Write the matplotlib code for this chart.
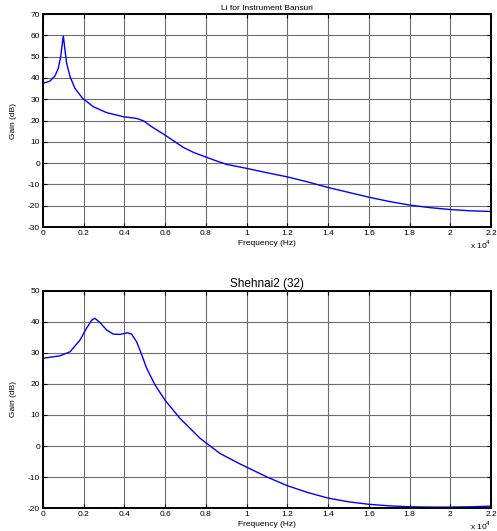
#!/usr/bin/env python

import numpy as np
import matplotlib.pyplot as plt

plt.rcParams['font.family'] = ['Liberation Sans', 'DejaVu Sans']
plt.rcParams['axes.unicode_minus'] = False

# ----------------------------------------------------------
# Datos (frecuencia en unidades de 1e4 Hz)
# ----------------------------------------------------------
freq_bansuri = [0.0, 0.034, 0.059, 0.075, 0.087, 0.095, 0.1, 0.106, 0.116,
                0.133, 0.157, 0.195, 0.247, 0.313, 0.394, 0.46, 0.495,
                0.526, 0.56, 0.599, 0.645, 0.689, 0.74, 0.796, 0.85, 0.902,
                0.997, 1.099, 1.197, 1.295, 1.398, 1.508, 1.6, 1.7, 1.8,
                1.9, 2.0, 2.1, 2.2]
gain_bansuri = [37.5, 38.5, 41.0, 44.5, 50.0, 56.2, 59.7, 54.7, 46.9,
                40.6, 35.1, 30.4, 26.5, 23.7, 21.8, 21.0, 19.8,
                17.6, 15.5, 13.2, 10.2, 7.4, 5.0, 3.0, 1.1, -0.6,
                -2.4, -4.5, -6.4, -8.7, -11.4, -13.9, -16.0, -18.0, -19.7,
                -20.9, -21.8, -22.4, -22.7]

freq_shehnai = [0.0, 0.0, 0.084, 0.133, 0.182, 0.214, 0.239, 0.255, 0.28,
                0.313, 0.345, 0.378, 0.414, 0.435, 0.46, 0.485, 0.509, 0.55,
                0.599, 0.673, 0.771, 0.869, 0.968, 1.1, 1.2, 1.3,
                1.4, 1.5, 1.6, 1.7, 1.8, 1.9, 2.0, 2.1, 2.2]
gain_shehnai = [0.0, 28.3, 29.1, 30.4, 34.2, 38.0, 40.6, 41.2, 39.8,
                37.4, 36.1, 36.0, 36.5, 36.1, 33.6, 29.4, 25.1, 19.7,
                14.8, 8.9, 2.5, -2.4, -5.8, -10.0, -12.8, -15.0,
                -16.8, -18.0, -18.8, -19.3, -19.6, -19.7, -19.7, -19.6, -19.4]

x_ticks = [0, 0.2, 0.4, 0.6, 0.8, 1, 1.2, 1.4, 1.6, 1.8, 2, 2.2]


def style_axes(ax, ylim, yticks, title, title_size):
    ax.set_xlim(0, 2.2)
    ax.set_ylim(*ylim)
    ax.set_xticks(x_ticks)
    ax.set_xticklabels([f"{t:g}" for t in x_ticks])
    ax.set_yticks(yticks)
    ax.tick_params(direction='in', top=True, right=True, labelsize=6,
                   length=3, width=0.8, pad=2)
    ax.grid(True, color='#6e6e6e', linewidth=0.8)
    for sp in ax.spines.values():
        sp.set_linewidth(1.4)
    ax.set_xlabel('Frequency (Hz)', fontsize=6, labelpad=2)
    ax.set_ylabel('Gain (dB)', fontsize=6, labelpad=8)
    ax.set_title(title, fontsize=title_size, pad=3)
    ax.annotate(r'x 10$^4$', xy=(1.0, 0.0), xycoords='axes fraction',
                xytext=(0, -8.5), textcoords='offset points',
                fontsize=6, ha='right', va='top')


fig = plt.figure(figsize=(4.97, 5.31), dpi=100)

ax1 = fig.add_axes([0.0865, 0.5725, 0.9014, 0.401])
ax1.plot(freq_bansuri, gain_bansuri, color='#0000ff', linewidth=1.0)
style_axes(ax1, (-30, 70), range(-30, 71, 10), 'Li for Instrument Bansuri', 6)

ax2 = fig.add_axes([0.0865, 0.0433, 0.9014, 0.4087])
ax2.plot(freq_shehnai, gain_shehnai, color='#0000ff', linewidth=1.0)
style_axes(ax2, (-20, 50), range(-20, 51, 10), 'Shehnai2 (32)', 8.5)

fig.savefig('out.png', dpi=100)
